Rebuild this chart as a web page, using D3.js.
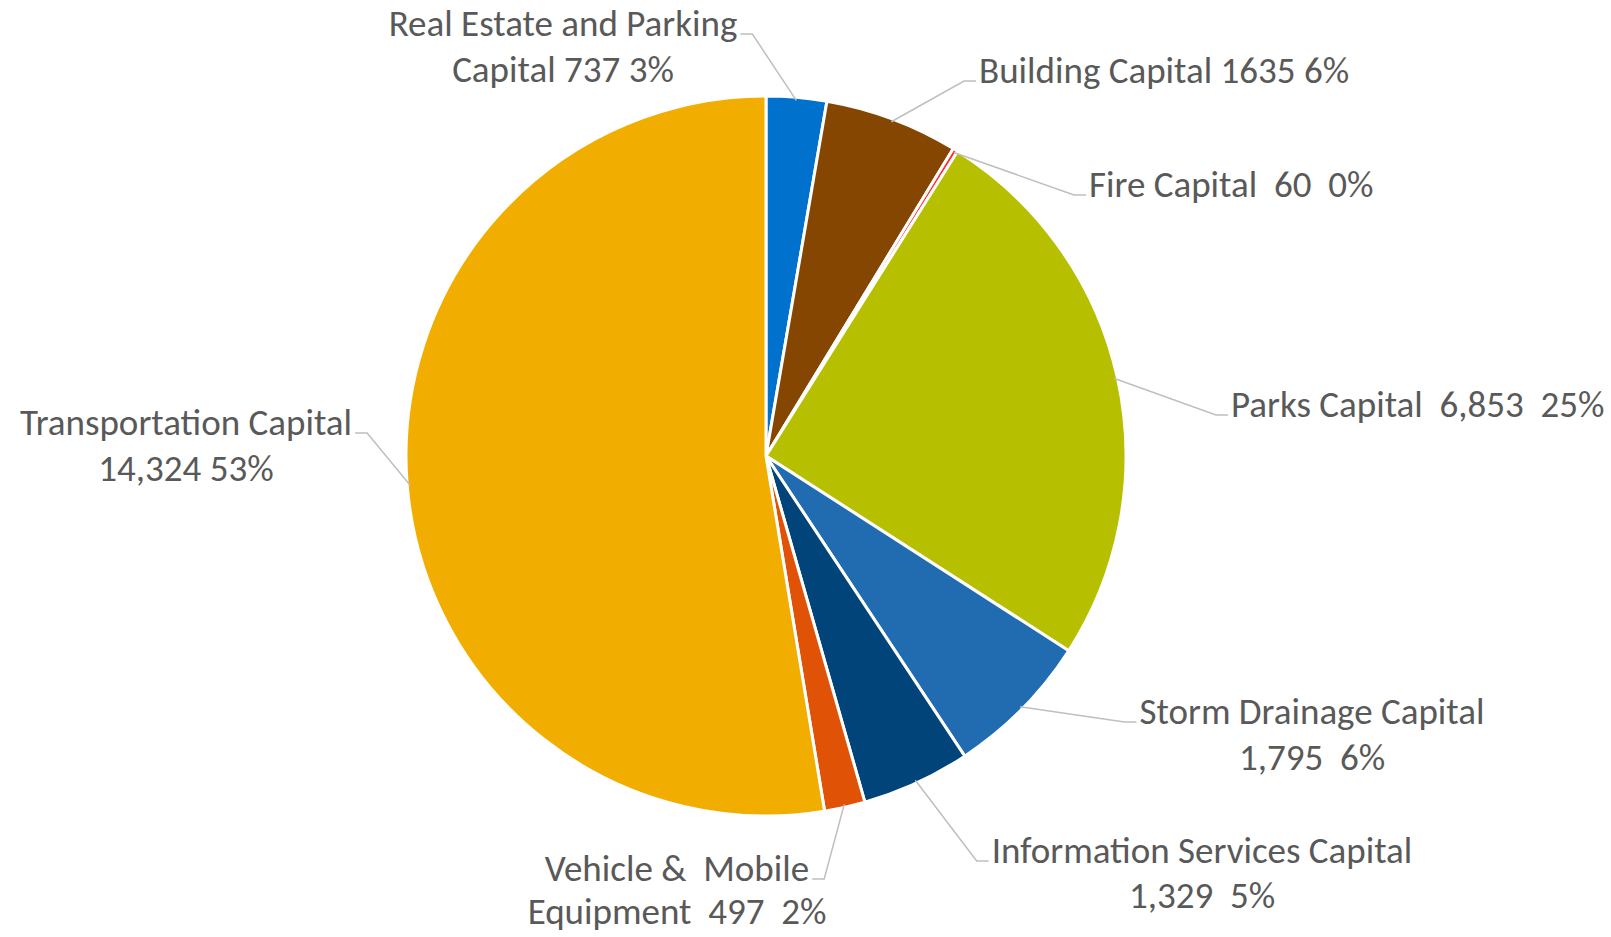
<!DOCTYPE html>
<meta charset="utf-8">
<style>
body {
  margin: 0;
  background: #fff;
}
.label {
  font: 37px Carlito, Calibri, Lato, sans-serif;
  fill: #595959;
}
.leader {
  fill: none;
  stroke: #bfbfbf;
  stroke-width: 1.5px;
}
</style>
<svg width="1611" height="937"></svg>
<script src="https://d3js.org/d3.v7.min.js"></script>
<script>

// slices, clockwise from 12 o'clock
var categories = ["Real Estate and Parking Capital", "Building Capital", "Fire Capital", "Parks Capital",
                  "Storm Drainage Capital", "Information Services Capital", "Vehicle & Mobile Equipment",
                  "Transportation Capital"];
var values = [737, 1635, 60, 6853, 1795, 1329, 497, 14324];
var colors = ["#0072ce", "#844600", "#ff2a2a", "#b7c000", "#216bb1", "#004479", "#e05206", "#f1ae00"];

// label text as printed on the chart
var labelLines = [
  ["Real Estate and Parking", "Capital 737 3%"],
  ["Building Capital 1635 6%"],
  ["Fire Capital  60  0%"],
  ["Parks Capital  6,853  25%"],
  ["Storm Drainage Capital", "1,795  6%"],
  ["Information Services Capital", "1,329  5%"],
  ["Vehicle &  Mobile", "Equipment  497  2%"],
  ["Transportation Capital", "14,324 53%"]
];

// label placement: [x, y of first line, anchor, side the leader attaches, line spacing]
var labelPos = [
  [563, 23, "middle", "right", 46],
  [979, 70, "start", "left", 46],
  [1089, 184, "start", "left", 46],
  [1231, 404, "start", "left", 46],
  [1312, 711, "middle", "left", 46],
  [1202, 850, "middle", "left", 45],
  [677, 868, "middle", "right", 43],
  [186, 422, "middle", "right", 46]
];

var svg = d3.select("svg"),
    cx = 766, cy = 456, radius = 360;

var g = svg.append("g").attr("transform", "translate(" + cx + "," + cy + ")");

var pie = d3.pie().sort(null).value(function(d) { return d; });
var arc = d3.arc().innerRadius(0).outerRadius(radius);
var arcs = pie(values);

g.selectAll("path.slice")
  .data(arcs)
  .enter().append("path")
    .attr("class", "slice")
    .attr("d", arc)
    .style("fill", function(d, i) { return colors[i]; })
    .style("stroke", "#fff")
    .style("stroke-width", 3)
    .style("stroke-linejoin", "round");

// labels
var labels = svg.selectAll("text.label")
  .data(labelLines)
  .enter().append("text")
    .attr("class", "label")
    .attr("xml:space", "preserve")
    .attr("text-anchor", function(d, i) { return labelPos[i][2]; })
    .attr("x", function(d, i) { return labelPos[i][0]; })
    .attr("y", function(d, i) { return labelPos[i][1]; });

labels.each(function(lines, i) {
  var t = d3.select(this);
  lines.forEach(function(s, j) {
    t.append("tspan")
      .attr("x", labelPos[i][0])
      .attr("y", labelPos[i][1] + j * labelPos[i][4])
      .attr("dy", "0.36em")
      .style("white-space", "pre")
      .text(s);
  });
});

// leader lines: from the first text line, short horizontal, then to the slice edge
labels.each(function(lines, i) {
  var first = this.querySelector("tspan").getBBox();
  var side = labelPos[i][3];
  var y0 = labelPos[i][1] + 11;
  var x0 = side === "right" ? first.x + first.width + 3 : first.x - 3;
  var x1 = side === "right" ? x0 + 12 : x0 - 12;
  var a = (arcs[i].startAngle + arcs[i].endAngle) / 2;
  var ex = cx + Math.sin(a) * (radius - 3),
      ey = cy - Math.cos(a) * (radius - 3);
  svg.append("path")
    .attr("class", "leader")
    .attr("d", d3.line()([[x0, y0], [x1, y0], [ex, ey]]));
});

</script>
